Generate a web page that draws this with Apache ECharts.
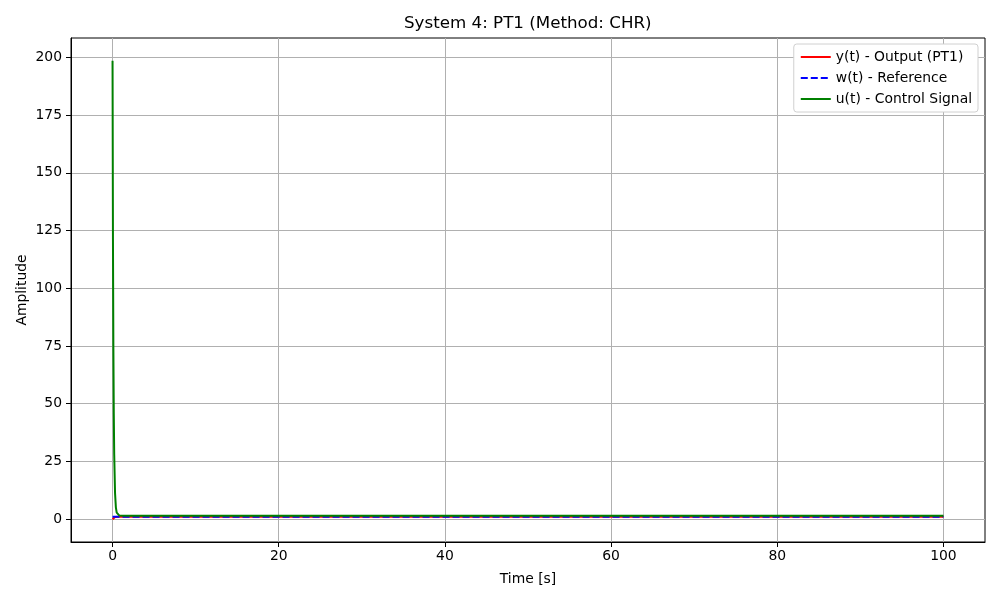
<!DOCTYPE html>
<html>
<head>
<meta charset="utf-8">
<script src="https://cdn.jsdelivr.net/npm/echarts@6/dist/echarts.min.js"></script>
<style>
  html, body { margin: 0; padding: 0; background: #fff; }
  #chart { width: 1000px; height: 600px; }
</style>
</head>
<body>
<div id="chart"></div>
<script>
// time grids (seconds) and values
const tOut = [0, 0.05, 0.1, 0.2, 0.3, 0.5, 0.8, 1.2, 2, 100]
const yOut = [0, 0.39, 0.63, 0.86, 0.95, 0.99, 1.0, 1.0, 1.0, 1.0]

const tRef = [0, 100]
const wRef = [1, 1]

const tCtl = [0, 0.05, 0.1, 0.15, 0.2, 0.3, 0.4, 0.5, 0.6, 0.8, 1.0, 1.5, 2, 100]
const uCtl = [198.5, 121, 74, 45.5, 28, 11.3, 5.1, 2.8, 2.0, 1.6, 1.52, 1.5, 1.5, 1.5]

const xTicks = [0, 20, 40, 60, 80, 100]
const yTicks = [0, 25, 50, 75, 100, 125, 150, 175, 200]

const pairs = (ts, vs) => ts.map((t, i) => [t, vs[i]])

const font = 'DejaVu Sans'
const gridColor = '#b0b0b0'

const axisCommon = {
  axisLine: { show: true, onZero: false, lineStyle: { color: '#000', width: 1 } },
  axisTick: { show: true, inside: false, length: 5, lineStyle: { color: '#000', width: 1 } },
  axisLabel: { color: '#000', fontFamily: font, fontSize: 13.9, margin: 8 },
  splitLine: { show: true, lineStyle: { color: gridColor, width: 1 } },
  nameTextStyle: { color: '#000', fontFamily: font, fontSize: 13.9 }
}

const option = {
  animation: false,
  backgroundColor: '#fff',
  textStyle: { fontFamily: font },
  title: {
    text: 'System 4: PT1 (Method: CHR)',
    left: 404,
    top: 15,
    padding: 0,
    textStyle: { fontFamily: font, fontSize: 16.7, fontWeight: 'normal', color: '#000' }
  },
  grid: {
    left: 71, right: 15, top: 38, bottom: 58,
    outerBoundsMode: 'none',
    show: true, borderColor: '#000', borderWidth: 1, backgroundColor: 'transparent'
  },
  legend: {
    orient: 'vertical',
    right: 22,
    top: 44,
    itemWidth: 30,
    itemHeight: 14,
    itemGap: 7,
    padding: 6,
    backgroundColor: '#fff',
    borderColor: '#d0d0d0',
    borderWidth: 1,
    borderRadius: 3,
    itemStyle: { opacity: 0 },
    textStyle: { fontFamily: font, fontSize: 13.9, color: '#000' },
    data: ['y(t) - Output (PT1)', 'w(t) - Reference', 'u(t) - Control Signal']
  },
  xAxis: {
    type: 'value',
    min: -5,
    max: 105,
    name: 'Time [s]',
    nameLocation: 'middle',
    nameGap: 30,
    ...axisCommon,
    axisTick: { ...axisCommon.axisTick, customValues: xTicks },
    axisLabel: { ...axisCommon.axisLabel, margin: 7, customValues: xTicks }
  },
  yAxis: {
    type: 'value',
    min: -9.9,
    max: 208.4,
    name: 'Amplitude',
    nameLocation: 'middle',
    nameGap: 42,
    nameMoveOverlap: false,
    ...axisCommon,
    axisTick: { ...axisCommon.axisTick, customValues: yTicks },
    axisLabel: { ...axisCommon.axisLabel, margin: 9, customValues: yTicks }
  },
  series: [
    {
      name: 'y(t) - Output (PT1)',
      type: 'line',
      data: pairs(tOut, yOut),
      showSymbol: false,
      symbol: 'none',
      itemStyle: { color: '#ff0000' },
      lineStyle: { color: '#ff0000', width: 2 }
    },
    {
      name: 'w(t) - Reference',
      type: 'line',
      data: pairs(tRef, wRef),
      showSymbol: false,
      symbol: 'none',
      itemStyle: { color: '#0000ff' },
      lineStyle: { color: '#0000ff', width: 2, type: [7, 3] }
    },
    {
      name: 'u(t) - Control Signal',
      type: 'line',
      data: pairs(tCtl, uCtl),
      showSymbol: false,
      symbol: 'none',
      itemStyle: { color: '#008000' },
      lineStyle: { color: '#008000', width: 2 }
    }
  ]
}

const myChart = echarts.init(document.getElementById('chart'), null, { renderer: 'canvas' })
myChart.setOption(option)
</script>
</body>
</html>
